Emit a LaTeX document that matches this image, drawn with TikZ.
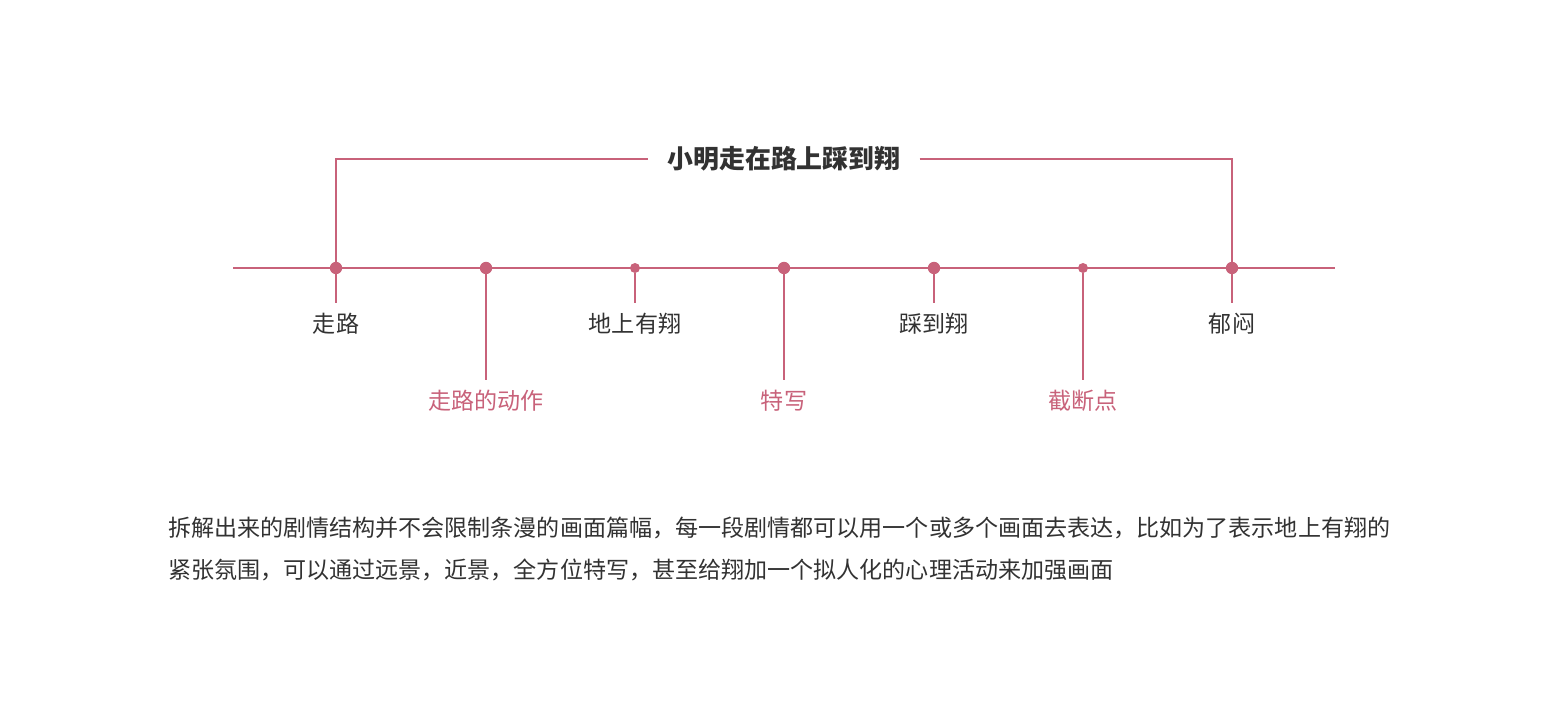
\documentclass[tikz,border=0pt]{standalone}
\usepackage{fontspec}
\newfontfamily\cjk{Noto Sans CJK SC}
\usetikzlibrary{positioning}
\definecolor{rose}{RGB}{200,98,122}
\definecolor{ink}{RGB}{50,50,50}

\begin{document}
\begin{tikzpicture}[x=0.025cm,y=-0.025cm,font=\cjk\fontsize{16.4}{20}\selectfont,
  wire/.style={draw=rose,line width=1.4pt},
  dot/.style={circle,fill=rose,inner sep=0pt,minimum size=0.31cm},
  tick/.style={dot,minimum size=0.25cm},
  lbl/.style={inner sep=0pt,outer sep=0.27cm,text=ink},
  shot/.style={lbl,text=rose}]
  \useasboundingbox (0,0) rectangle (1568,708);
  % timeline
  \coordinate (lineL) at (233,268);
  \coordinate (lineR) at (1335,268);
  \draw[wire] (lineL) -- (lineR);
  \foreach \x/\n/\s in {336/1/dot,486/2/dot,635/3/tick,784/4/dot,934/5/dot,1083/6/tick,1232/7/dot}
    \node[\s] (d\n) at (\x,268) {};
  % labels
  \node[lbl] (l1) at (336,324) {走路};
  \node[shot] (l2) at (486,401) {走路的动作};
  \node[lbl] (l3) at (635,324) {地上有翔};
  \node[shot] (l4) at (784,401) {特写};
  \node[lbl] (l5) at (934,324) {踩到翔};
  \node[shot] (l6) at (1083,401) {截断点};
  \node[lbl] (l7) at (1232,324) {郁闷};
  \foreach \n in {1,...,7}
    \draw[wire] (d\n) -- (l\n);
  % bracket with title
  \node[inner sep=0pt,outer sep=0.48cm,text=ink,font=\cjk\fontsize{18.4}{22}\selectfont\bfseries]
    (title) at (784,159) {小明走在路上踩到翔};
  \draw[wire] (d1.center) |- (title.west);
  \draw[wire] (title.east) -| (d7.center);
  % note
  \node[lbl,anchor=west,outer sep=0pt] (body1) at (168,528)
    {拆解出来的剧情结构并不会限制条漫的画面篇幅，每一段剧情都可以用一个或多个画面去表达，比如为了表示地上有翔的};
  \node[lbl,anchor=west,outer sep=0pt] (body2) at (168,570)
    {紧张氛围，可以通过远景，近景，全方位特写，甚至给翔加一个拟人化的心理活动来加强画面};
\end{tikzpicture}
\end{document}
